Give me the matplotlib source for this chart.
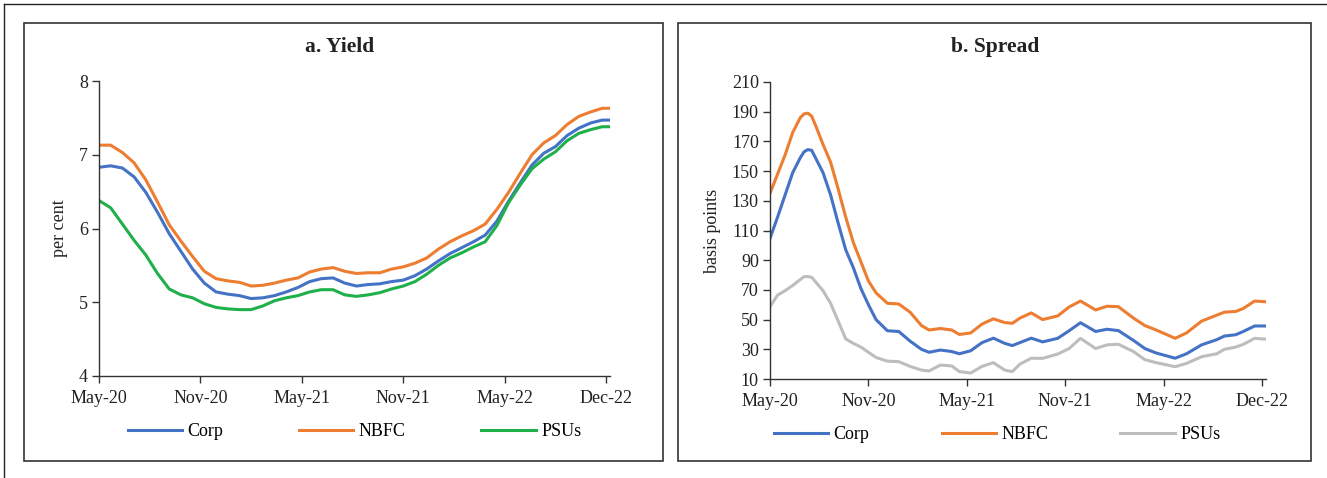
import numpy as np
import matplotlib.pyplot as plt
from matplotlib.lines import Line2D
from matplotlib.patches import Rectangle

plt.rcParams['font.family'] = ['Liberation Serif', 'DejaVu Serif']

# x axis: weeks since May-20, labels every 26 weeks
tick_pos = [0, 26, 52, 78, 104, 130]
tick_labels = ['May-20', 'Nov-20', 'May-21', 'Nov-21', 'May-22', 'Dec-22']

# ---- panel a: yield (per cent)
weeks_a = [0, 3, 6, 9, 12, 15, 18, 21, 24, 27, 30, 33, 36, 39, 42, 45, 48, 51, 54, 57,
           60, 63, 66, 69, 72, 75, 78, 81, 84, 87, 90, 93, 96, 99, 102, 105, 108, 111,
           114, 117, 120, 123, 126, 129, 131]
corp_yield = [6.83, 6.85, 6.82, 6.70, 6.49, 6.22, 5.93, 5.69, 5.45, 5.26, 5.14, 5.11, 5.09,
              5.05, 5.06, 5.09, 5.14, 5.20, 5.28, 5.32, 5.33, 5.26, 5.22, 5.24, 5.25, 5.28,
              5.30, 5.36, 5.45, 5.56, 5.66, 5.74, 5.82, 5.91, 6.10, 6.37, 6.62, 6.86, 7.02,
              7.11, 7.26, 7.36, 7.43, 7.47, 7.47]
nbfc_yield = [7.13, 7.13, 7.03, 6.89, 6.66, 6.36, 6.05, 5.83, 5.62, 5.42, 5.32, 5.29, 5.27,
              5.22, 5.23, 5.26, 5.30, 5.33, 5.41, 5.45, 5.47, 5.42, 5.39, 5.40, 5.40, 5.45,
              5.48, 5.53, 5.60, 5.72, 5.82, 5.90, 5.97, 6.06, 6.26, 6.49, 6.75, 7.00, 7.16,
              7.26, 7.41, 7.52, 7.58, 7.63, 7.63]
psu_yield = [6.38, 6.28, 6.06, 5.84, 5.64, 5.39, 5.18, 5.10, 5.06, 4.98, 4.93, 4.91, 4.90,
             4.90, 4.95, 5.02, 5.06, 5.09, 5.14, 5.17, 5.17, 5.10, 5.08, 5.10, 5.13, 5.18,
             5.22, 5.28, 5.38, 5.50, 5.60, 5.67, 5.75, 5.82, 6.04, 6.35, 6.59, 6.81, 6.94,
             7.04, 7.19, 7.29, 7.34, 7.38, 7.38]

# ---- panel b: spread (basis points)
weeks_b = [0, 2, 4, 6, 8, 9, 10, 11, 12, 14, 16, 18, 20, 22, 24, 26, 28, 31, 34, 37, 40,
           42, 45, 48, 50, 53, 56, 59, 62, 64, 66, 69, 72, 76, 79, 82, 86, 89, 92, 96, 99,
           102, 107, 110, 114, 118, 120, 123, 125, 128, 131]
corp_spread = [104.7, 119, 134, 149, 159, 163, 164.5, 164, 159, 149, 134, 115, 97, 85, 71,
               60, 50, 42.5, 42, 35.5, 30, 28, 29.5, 28.5, 27, 29, 34.5, 37.5, 34, 32.5,
               34.5, 37.5, 35, 37.4, 42.5, 47.9, 42, 43.5, 42.6, 36, 30.5, 27.5, 24, 27, 33,
               36.5, 38.9, 39.8, 42, 45.7, 45.7]
nbfc_spread = [135, 148, 161, 176, 186, 188.5, 189, 187, 181, 168, 156, 138, 119, 102, 89,
               76, 68, 61, 60.5, 55, 46, 43, 44, 43, 40, 41, 47, 50.5, 48, 47.5, 51, 54.5,
               50, 52.5, 58.5, 62.5, 56.5, 59, 58.7, 51, 46, 43, 37.4, 41, 49, 53, 55, 55.5,
               57.5, 62.5, 62]
psu_spread = [58.7, 66.5, 69.5, 73, 77, 78.9, 79, 78.5, 75.5, 69.5, 61, 49, 37, 34, 31.5,
              28, 24.5, 22, 21.7, 18.5, 16, 15.4, 19.4, 18.8, 15, 14, 18.5, 21, 16, 15, 20,
              24, 23.9, 26.8, 30.5, 37.4, 30.5, 33, 33.4, 28.5, 23, 21, 18.3, 20.5, 25, 27,
              30, 31.5, 33.3, 37.4, 36.8]

BLUE = '#4472C4'
ORANGE = '#ED7D31'
GREEN = '#1FB04B'
GREY = '#BDBDBD'

W, H = 1327, 478
fig = plt.figure(figsize=(W / 100, H / 100), dpi=100)


def fx(px):
    return px / W


def fy(py):
    return 1 - py / H


# outer frame (top and left edges) and panel boxes
fig.add_artist(Line2D([fx(4), 1], [fy(4), fy(4)], color='#222222', lw=1.0))
fig.add_artist(Line2D([fx(4), fx(4)], [fy(4), 0], color='#222222', lw=1.0))
for x0, x1 in [(24, 663), (678, 1311)]:
    fig.add_artist(Rectangle((fx(x0), fy(461)), fx(x1) - fx(x0), fy(23) - fy(461),
                             fill=False, ec='#333333', lw=1.2, transform=fig.transFigure))


def style_axes(ax, ylim, yticks, ylabel, title, title_x, colspace, leg_x):
    ax.set_xlim(0, 131)
    ax.set_ylim(*ylim)
    ax.set_yticks(yticks)
    ax.set_xticks(tick_pos)
    ax.set_xticklabels(tick_labels)
    for s in ['top', 'right']:
        ax.spines[s].set_visible(False)
    for s in ['left', 'bottom']:
        ax.spines[s].set_color('#333333')
        ax.spines[s].set_linewidth(1.0)
    ax.tick_params(axis='both', direction='out', length=5, width=1.0, color='#333333',
                   labelsize=13, labelcolor='#222222')
    ax.tick_params(axis='x', pad=5)
    ax.tick_params(axis='y', pad=3)
    ax.set_ylabel(ylabel, fontsize=13, color='#222222', labelpad=8)
    fig.text(title_x, fy(47), title, ha='center', va='center', fontsize=15.5,
             fontweight='bold', color='#222222')
    ax.legend(loc='upper center', bbox_to_anchor=(leg_x, -0.105), ncol=3, frameon=False,
              handlelength=3.0, handletextpad=0.3, columnspacing=colspace, fontsize=13)


# panel a
ax1 = fig.add_axes([fx(99), fy(376), fx(610) - fx(99), fy(81) - fy(376)])
ax1.plot(weeks_a, corp_yield, color=BLUE, lw=2.2, label='Corp')
ax1.plot(weeks_a, nbfc_yield, color=ORANGE, lw=2.2, label='NBFC')
ax1.plot(weeks_a, psu_yield, color=GREEN, lw=2.2, label='PSUs')
style_axes(ax1, (4, 8), [4, 5, 6, 7, 8], 'per cent', 'a. Yield', fx(340), 4.2, 0.5)

# panel b
ax2 = fig.add_axes([fx(770), fy(379), fx(1266) - fx(770), fy(82) - fy(379)])
ax2.plot(weeks_b, corp_spread, color=BLUE, lw=2.2, label='Corp')
ax2.plot(weeks_b, nbfc_spread, color=ORANGE, lw=2.2, label='NBFC')
ax2.plot(weeks_b, psu_spread, color=GREY, lw=2.2, label='PSUs')
style_axes(ax2, (10, 210), list(range(10, 211, 20)), 'basis points', 'b. Spread',
           fx(995), 4.0, 0.458)

fig.savefig('out.png', dpi=100)
